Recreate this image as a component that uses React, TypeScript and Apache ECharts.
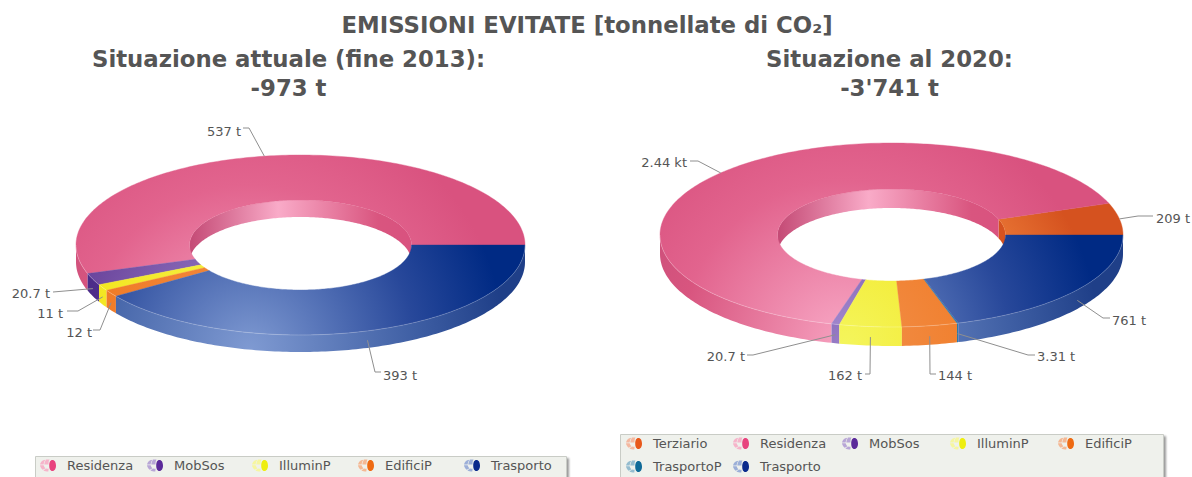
import React, { useEffect, useRef } from "react";
import * as echarts from "echarts";

const leftCategories = ["Residenza", "MobSos", "IlluminP", "EdificiP", "Trasporto"];
const leftValues = [537, 20.7, 11, 12, 393];
const leftLabels = ["537 t", "20.7 t", "11 t", "12 t", "393 t"];

const rightCategories = ["Terziario", "Residenza", "MobSos", "IlluminP", "EdificiP", "TrasportoP", "Trasporto"];
const rightValues = [209, 2440, 20.7, 162, 144, 3.31, 761];
const rightLabels = ["209 t", "2.44 kt", "20.7 t", "162 t", "144 t", "3.31 t", "761 t"];

const PALETTE: Record<string, string[]> = {
  Terziario: ["#f29a5c", "#ee7f3a", "#d5521f"],
  Residenza: ["#f8a9c6", "#e2648e", "#d9527f"],
  MobSos: ["#a68dd2", "#6f4aa0", "#4a2a90"],
  IlluminP: ["#f4f55c", "#f3e620", "#f0e000"],
  EdificiP: ["#f2904c", "#f07a24", "#d5521f"],
  TrasportoP: ["#4a93b8", "#1f6f9f", "#0f5a88"],
  Trasporto: ["#7f9ad2", "#28489a", "#002a84"],
};
const LEGEND_COLOR: Record<string, string[]> = {
  Terziario: ["#f4b8a0", "#e8581a"],
  Residenza: ["#f6b4ca", "#e8437e"],
  MobSos: ["#b8a6d6", "#5b2a9a"],
  IlluminP: ["#f6f6a0", "#eeee10"],
  EdificiP: ["#f4b894", "#ee6a12"],
  TrasportoP: ["#94bccf", "#0f6a98"],
  Trasporto: ["#9cafd8", "#0a2a8c"],
};

const LEFT_PIE = { cx: 300.5, cy: 245, rx: 224.5, ry: 90, irx: 111, iry: 45, depth: 17, lx: 250, ly: 350, lr: 300 };
const RIGHT_PIE = { cx: 891.5, cy: 235, rx: 231.5, ry: 92, irx: 114, iry: 46, depth: 19, lx: 845, ly: 345, lr: 300 };

// elbow x, y, line end x, y, text anchor x, y, align
const LEFT_LEADERS: any[] = [
  [249, 128, 243, 128, 241, 131, "right"],
  [null, null, 53, 292, 50, 293, "right"],
  [78, 311, 67, 311, 63, 313, "right"],
  [100, 330, 93, 330, 92, 332, "right"],
  [375, 372, 381, 372, 383, 375, "left"],
];
const RIGHT_LEADERS: any[] = [
  [1138, 216, 1153, 216, 1156, 218, "left"],
  [698, 161, 690, 161, 687, 162, "right"],
  [753, 355, 747, 355, 745, 356, "right"],
  [870, 374, 865, 374, 862, 375, "right"],
  [930, 374, 936, 374, 938, 375, "left"],
  [1028, 355, 1035, 355, 1037, 356, "left"],
  [1103, 318, 1110, 318, 1112, 320, "left"],
];

// icon left x per legend item, and row centre y
const LEFT_LEGEND_X = [40, 147, 252, 358, 464];
const LEFT_LEGEND_Y = [466, 466, 466, 466, 466];
const RIGHT_LEGEND_X = [626, 733, 842, 950, 1058, 626, 733];
const RIGHT_LEGEND_Y = [444, 444, 444, 444, 444, 467, 467];

const ICON =
  "path://M3.4 1 C1.6 2 0.4 3.6 0 5.4 L3.8 5.4 C4 3.6 4.6 2 5.6 0.4 Z " +
  "M6.4 0.1 C5.4 2 4.7 3.6 4.6 5.4 L9 5.4 C9 3.4 9.2 1.8 9.8 0 Z " +
  "M0 6.2 C0.2 7.8 1.2 9.6 2.8 11 L6 9.4 C5 8.6 4.2 7.4 3.9 6.2 Z " +
  "M3.6 11.5 C5 12.6 6.8 13 8.8 13 L9.2 10 C8.2 10 7.4 9.9 6.8 9.6 Z " +
  "M13.2 0.6 C15.6 0.6 17 3.2 17 6.5 C17 9.8 15.6 12.4 13.2 12.4 C10.8 12.4 9.8 9.8 9.8 6.5 C9.8 3.2 10.8 0.6 13.2 0.6 Z";

const FONT = "'DejaVu Sans', Verdana, sans-serif";
const RAD = Math.PI / 180;

function ell(p: any, a: number, inner = false, dy = 0): number[] {
  const rx = inner ? p.irx : p.rx;
  const ry = inner ? p.iry : p.ry;
  return [p.cx + rx * Math.cos(a * RAD), p.cy - ry * Math.sin(a * RAD) + dy];
}
function arc(p: any, a0: number, a1: number, inner = false, dy = 0): number[][] {
  const n = Math.max(2, Math.ceil(Math.abs(a1 - a0)));
  const pts: number[][] = [];
  for (let i = 0; i <= n; i++) pts.push(ell(p, a0 + ((a1 - a0) * i) / n, inner, dy));
  return pts;
}

function pieSeries(categories: string[], values: number[], labels: string[], leaders: any[], pie: any) {
  const total = values.reduce((a, b) => a + b, 0);
  let cum = 0;
  return categories.map((name, i) => {
    const v = values[i];
    const start = cum;
    cum += v;
    return {
      type: "custom",
      name,
      coordinateSystem: "none",
      silent: true,
      data: [[v, start]],
      itemStyle: { color: PALETTE[name][1] },
      renderItem: (_: any, api: any) => {
        const value = api.value(0);
        const offset = api.value(1);
        const a0 = (offset / total) * 360;
        const a1 = ((offset + value) / total) * 360;
        const mid = (a0 + a1) / 2;
        const c = PALETTE[name];
        const light = (stops: string[]) =>
          new echarts.graphic.RadialGradient(
            pie.lx,
            pie.ly,
            pie.lr,
            [
              { offset: 0, color: stops[0] },
              { offset: 0.55, color: stops[1] },
              { offset: 0.85, color: stops[2] },
              { offset: 1, color: stops[2] },
            ],
            true
          );
        const fill = light(c);
        const children: any[] = [];
        if (a0 < 180) {
          const b = Math.min(a1, 180);
          const top = arc(pie, a0, b, true, 0);
          const bot = arc(pie, b, a0, true, pie.depth);
          const wallFill =
            name === "Residenza"
              ? new echarts.graphic.LinearGradient(
                  pie.cx - pie.irx,
                  0,
                  pie.cx + pie.irx,
                  0,
                  [
                    { offset: 0, color: "#c44a75" },
                    { offset: 0.4, color: "#f9abc8" },
                    { offset: 0.85, color: "#d9557f" },
                    { offset: 1, color: "#d9527f" },
                  ],
                  true
                )
              : c[2];
          children.push({
            type: "polygon",
            z2: 1,
            shape: { points: top.concat(bot) },
            style: { fill: wallFill, stroke: null },
          });
        }
        if (a1 > 180) {
          const a = Math.max(a0, 180);
          const top = arc(pie, a, a1, false, 0);
          const bot = arc(pie, a1, a, false, pie.depth);
          const wallStops =
            name === "Trasporto"
              ? ["#7f9ad2", "#3f5fa4", "#1f3f88"]
              : name === "Residenza"
              ? ["#f7a2c0", "#d8557f", "#c64c78"]
              : name === "MobSos"
              ? ["#9a7fc8", "#4d2d8a", "#3f2480"]
              : c;
          children.push({
            type: "polygon",
            z2: 2,
            shape: { points: top.concat(bot) },
            style: { fill: light(wallStops), stroke: null },
          });
          children.push({
            type: "polyline",
            z2: 4,
            shape: { points: top },
            style: { fill: null, stroke: "rgba(255,255,255,0.22)", lineWidth: 1 },
          });
        }
        children.push({
          type: "polygon",
          z2: 3,
          shape: { points: arc(pie, a0, a1, false).concat(arc(pie, a1, a0, true)) },
          style: { fill, stroke: fill, lineWidth: 0.4 },
        });
        const rim = ell(pie, mid, false, mid > 180 ? pie.depth * 0.55 : 0);
        const [ex, ey, lx, ly, tx, ty, align] = leaders[i];
        const pts = ex == null ? [rim, [lx, ly]] : [rim, [ex, ey], [lx, ly]];
        children.push({
          type: "polyline",
          z2: 5,
          shape: { points: pts },
          style: { fill: null, stroke: "#8f8f8f", lineWidth: 1 },
        });
        children.push({
          type: "text",
          z2: 6,
          x: tx,
          y: ty,
          style: {
            text: labels[i],
            font: `13px ${FONT}`,
            fill: "#555555",
            align,
            verticalAlign: "middle",
          },
        });
        return { type: "group", children };
      },
    };
  });
}

function legendItems(names: string[], xs: number[], ys: number[]) {
  return names.map((name, i) => ({
    data: [
      {
        name,
        icon: ICON,
        itemStyle: {
          color: new echarts.graphic.LinearGradient(0, 0, 1, 0, [
            { offset: 0, color: LEGEND_COLOR[name][0] },
            { offset: 0.56, color: LEGEND_COLOR[name][0] },
            { offset: 0.56, color: LEGEND_COLOR[name][1] },
            { offset: 1, color: LEGEND_COLOR[name][1] },
          ]),
        },
      },
    ],
    orient: "horizontal",
    left: xs[i],
    top: ys[i] - 7,
    padding: 0,
    itemWidth: 16,
    itemHeight: 13,
    selectedMode: false,
    textStyle: { color: "#555555", fontFamily: FONT, fontSize: 13, padding: [0, 0, 0, 6] },
  }));
}

function legendBox(x: number, y: number, w: number, h: number) {
  return {
    type: "rect",
    silent: true,
    z: 1,
    shape: { x: x + 0.5, y: y + 0.5, width: w, height: h },
    style: {
      fill: "#eff1ec",
      stroke: "#c9ccc6",
      lineWidth: 1,
      shadowColor: "rgba(0,0,0,0.4)",
      shadowBlur: 2,
      shadowOffsetX: 2,
      shadowOffsetY: 2,
    },
  };
}

const titleStyle = { color: "#555555", fontFamily: FONT, fontWeight: "bold" as const };

export default function App() {
  const ref = useRef<HTMLDivElement>(null);
  useEffect(() => {
    document.body.style.margin = "0";
    document.body.style.background = "#ffffff";
    const chart = echarts.init(ref.current!, null, { renderer: "svg" });
    chart.setOption({
      animation: false,
      backgroundColor: "#ffffff",
      title: [
        {
          text: "EMISSIONI EVITATE [tonnellate di CO₂]",
          left: 587,
          top: 13,
          textAlign: "center",
          padding: 0,
          textStyle: { ...titleStyle, fontSize: 22.8 },
        },
        {
          text: "Situazione attuale (fine 2013):\n-973 t",
          left: 288.5,
          top: 44,
          textAlign: "center",
          padding: 0,
          textStyle: { ...titleStyle, fontSize: 22.8, lineHeight: 29 },
        },
        {
          text: "Situazione al 2020:\n-3'741 t",
          left: 889.5,
          top: 44,
          textAlign: "center",
          padding: 0,
          textStyle: { ...titleStyle, fontSize: 22.8, lineHeight: 29 },
        },
      ],
      graphic: [legendBox(35, 456, 531, 40), legendBox(620, 434, 543, 60)],
      legend: [
        ...legendItems(leftCategories, LEFT_LEGEND_X, LEFT_LEGEND_Y),
        ...legendItems(rightCategories, RIGHT_LEGEND_X, RIGHT_LEGEND_Y),
      ],
      series: [
        ...pieSeries(leftCategories, leftValues, leftLabels, LEFT_LEADERS, LEFT_PIE),
        ...pieSeries(rightCategories, rightValues, rightLabels, RIGHT_LEADERS, RIGHT_PIE),
      ],
    } as any);
    return () => chart.dispose();
  }, []);
  return <div ref={ref} style={{ width: 1192, height: 477, overflow: "hidden" }} />;
}
